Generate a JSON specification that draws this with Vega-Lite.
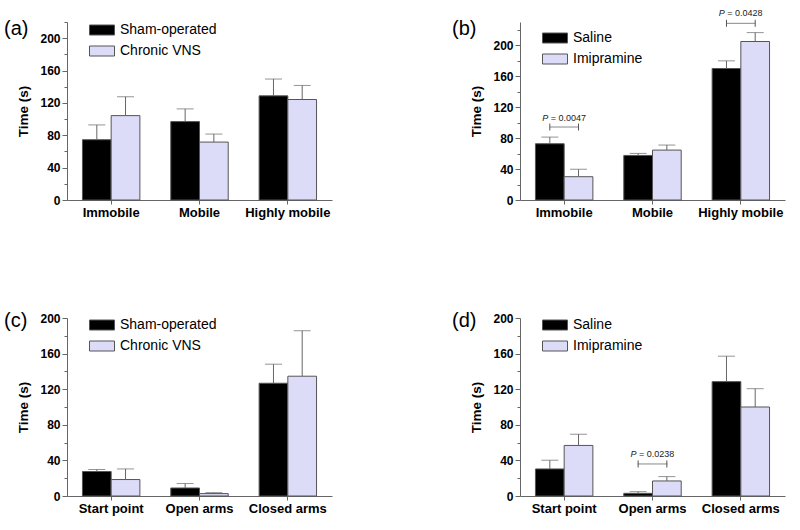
{
  "$schema": "https://vega.github.io/schema/vega-lite/v6.json",
  "padding": {"top": 8, "left": 3, "right": 5, "bottom": 5},
  "columns": 2,
  "spacing": {"row": 92, "column": 119},
  "resolve": {"scale": {"x": "independent", "y": "independent", "fill": "independent", "xOffset": "independent"}},
  "config": {
    "font": "Liberation Sans",
    "view": {"stroke": null},
    "axis": {"domainColor": "#666", "tickColor": "#666", "labelColor": "#000", "titleColor": "#000", "grid": false, "labelFontWeight": "bold", "titleFontWeight": "bold"},
    "axisX": {"title": null, "labelAngle": 0, "labelFontSize": 13, "tickSize": 4, "labelPadding": 2},
    "axisY": {"labelFontSize": 12, "titleFontSize": 13.5, "tickSize": 5, "labelPadding": 2, "titlePadding": 9},
    "legend": {"orient": "none", "legendX": 22, "legendY": 0, "title": null, "symbolType": "M-1,-0.4H1V0.4H-1Z", "symbolSize": 625, "symbolStrokeColor": "#555", "symbolStrokeWidth": 1, "symbolOpacity": 1, "labelFontSize": 14, "labelColor": "#000", "labelOffset": 5, "rowPadding": 1, "padding": 0},
    "title": {"anchor": "start", "frame": "bounds", "fontSize": 20, "fontWeight": "normal", "color": "#000", "offset": 0}
  },
  "concat": [
    {
      "width": 265, "height": 178,
      "title": {"text": "(a)", "dx": -13, "dy": 26},
      "data": {"values": [
        {"cat": "Immobile", "group": "Sham-operated", "value": 74.5, "err": 92.8},
        {"cat": "Immobile", "group": "Chronic VNS", "value": 104.3, "err": 127.6},
        {"cat": "Mobile", "group": "Sham-operated", "value": 96.9, "err": 112.6},
        {"cat": "Mobile", "group": "Chronic VNS", "value": 71.6, "err": 81.5},
        {"cat": "Highly mobile", "group": "Sham-operated", "value": 128.7, "err": 149.5},
        {"cat": "Highly mobile", "group": "Chronic VNS", "value": 124.2, "err": 141.6}
      ]},
      "resolve": {"axis": {"y": "independent"}},
      "layer": [
        {"mark": {"type": "bar", "stroke": "#555", "strokeWidth": 1},
         "encoding": {
           "x": {"field": "cat", "type": "nominal", "sort": ["Immobile", "Mobile", "Highly mobile"], "scale": {"paddingInner": 0.35, "paddingOuter": 0.175}},
           "xOffset": {"field": "group", "type": "nominal", "sort": ["Sham-operated", "Chronic VNS"], "scale": {"paddingInner": 0, "paddingOuter": 0}},
           "y": {"field": "value", "type": "quantitative", "scale": {"domain": [0, 220], "nice": false}, "axis": {"values": [0, 40, 80, 120, 160, 200], "title": "Time (s)"}},
           "fill": {"field": "group", "type": "nominal", "scale": {"domain": ["Sham-operated", "Chronic VNS"], "range": ["#000000", "#dcdcf8"]}, "legend": {"legendY": -5}}
         }},
        {"mark": {"type": "rule", "color": "#666", "strokeWidth": 1},
         "encoding": {
           "x": {"field": "cat", "type": "nominal", "sort": ["Immobile", "Mobile", "Highly mobile"]},
           "xOffset": {"field": "group", "type": "nominal", "sort": ["Sham-operated", "Chronic VNS"]},
           "y": {"field": "value", "type": "quantitative", "axis": null},
           "y2": {"field": "err"}
         }},
        {"mark": {"type": "tick", "color": "#666", "size": 17, "thickness": 1},
         "encoding": {
           "x": {"field": "cat", "type": "nominal", "sort": ["Immobile", "Mobile", "Highly mobile"]},
           "xOffset": {"field": "group", "type": "nominal", "sort": ["Sham-operated", "Chronic VNS"]},
           "y": {"field": "err", "type": "quantitative", "axis": {"values": [20, 60, 100, 140, 180, 220], "labels": false, "tickSize": 3, "domain": false, "title": null, "orient": "left"}}
         }}
      ]
    },
    {
      "width": 265, "height": 178,
      "title": {"text": "(b)", "dx": -18, "dy": 34},
      "data": {"values": [
        {"cat": "Immobile", "group": "Saline", "value": 72.7, "err": 81.3},
        {"cat": "Immobile", "group": "Imipramine", "value": 30.1, "err": 39.6},
        {"cat": "Mobile", "group": "Saline", "value": 57.6, "err": 60.2},
        {"cat": "Mobile", "group": "Imipramine", "value": 64.5, "err": 71.0},
        {"cat": "Highly mobile", "group": "Saline", "value": 169.9, "err": 179.8},
        {"cat": "Highly mobile", "group": "Imipramine", "value": 204.8, "err": 216.3}
      ]},
      "resolve": {"axis": {"y": "independent"}},
      "layer": [
        {"mark": {"type": "bar", "stroke": "#555", "strokeWidth": 1},
         "encoding": {
           "x": {"field": "cat", "type": "nominal", "sort": ["Immobile", "Mobile", "Highly mobile"], "scale": {"paddingInner": 0.35, "paddingOuter": 0.175}},
           "xOffset": {"field": "group", "type": "nominal", "sort": ["Saline", "Imipramine"], "scale": {"paddingInner": 0, "paddingOuter": 0}},
           "y": {"field": "value", "type": "quantitative", "scale": {"domain": [0, 230], "nice": false}, "axis": {"values": [0, 40, 80, 120, 160, 200], "title": "Time (s)"}},
           "fill": {"field": "group", "type": "nominal", "scale": {"domain": ["Saline", "Imipramine"], "range": ["#000000", "#dcdcf8"]}, "legend": {"legendY": 3}}
         }},
        {"mark": {"type": "rule", "color": "#666", "strokeWidth": 1},
         "encoding": {
           "x": {"field": "cat", "type": "nominal", "sort": ["Immobile", "Mobile", "Highly mobile"]},
           "xOffset": {"field": "group", "type": "nominal", "sort": ["Saline", "Imipramine"]},
           "y": {"field": "value", "type": "quantitative", "axis": null},
           "y2": {"field": "err"}
         }},
        {"mark": {"type": "tick", "color": "#666", "size": 17, "thickness": 1},
         "encoding": {
           "x": {"field": "cat", "type": "nominal", "sort": ["Immobile", "Mobile", "Highly mobile"]},
           "xOffset": {"field": "group", "type": "nominal", "sort": ["Saline", "Imipramine"]},
           "y": {"field": "err", "type": "quantitative", "axis": {"values": [20, 60, 100, 140, 180, 220], "labels": false, "tickSize": 3, "domain": false, "title": null, "orient": "left"}}
         }},
        {"data": {"values": [
           {"cat": "Immobile", "y": 94.3},
           {"cat": "Highly mobile", "y": 228.3}
         ]},
         "mark": {"type": "tick", "color": "#555", "size": 29, "thickness": 1},
         "encoding": {
           "x": {"field": "cat", "type": "nominal", "sort": ["Immobile", "Mobile", "Highly mobile"]},
           "y": {"field": "y", "type": "quantitative", "axis": null}
         }},
        {"data": {"values": [
           {"cat": "Immobile", "group": "Saline", "y1": 89.8, "y2": 98.8},
           {"cat": "Immobile", "group": "Imipramine", "y1": 89.8, "y2": 98.8},
           {"cat": "Highly mobile", "group": "Saline", "y1": 223.8, "y2": 232.8},
           {"cat": "Highly mobile", "group": "Imipramine", "y1": 223.8, "y2": 232.8}
         ]},
         "mark": {"type": "rule", "color": "#555", "strokeWidth": 1},
         "encoding": {
           "x": {"field": "cat", "type": "nominal", "sort": ["Immobile", "Mobile", "Highly mobile"]},
           "xOffset": {"field": "group", "type": "nominal", "sort": ["Saline", "Imipramine"]},
           "y": {"field": "y1", "type": "quantitative", "axis": null},
           "y2": {"field": "y2"}
         }},
        {"data": {"values": [
           {"cat": "Immobile", "y": 102, "p": "P", "rest": "= 0.0047"},
           {"cat": "Highly mobile", "y": 238, "p": "P", "rest": "= 0.0428"}
         ]},
         "layer": [
           {"mark": {"type": "text", "fontSize": 9, "fontStyle": "italic", "color": "#222", "align": "left", "dx": -22, "baseline": "alphabetic"},
            "encoding": {
              "x": {"field": "cat", "type": "nominal", "sort": ["Immobile", "Mobile", "Highly mobile"]},
              "y": {"field": "y", "type": "quantitative", "axis": null},
              "text": {"field": "p"}
            }},
           {"mark": {"type": "text", "fontSize": 9, "color": "#222", "align": "left", "dx": -13.5, "baseline": "alphabetic"},
            "encoding": {
              "x": {"field": "cat", "type": "nominal", "sort": ["Immobile", "Mobile", "Highly mobile"]},
              "y": {"field": "y", "type": "quantitative", "axis": null},
              "text": {"field": "rest"}
            }}
         ]}
      ]
    },
    {
      "width": 265, "height": 178,
      "title": {"text": "(c)", "dx": -13, "dy": 23},
      "data": {"values": [
        {"cat": "Start point", "group": "Sham-operated", "value": 27.5, "err": 29.8},
        {"cat": "Start point", "group": "Chronic VNS", "value": 18.5, "err": 30.4},
        {"cat": "Open arms", "group": "Sham-operated", "value": 9.0, "err": 14.0},
        {"cat": "Open arms", "group": "Chronic VNS", "value": 2.7, "err": 3.8},
        {"cat": "Closed arms", "group": "Sham-operated", "value": 126.7, "err": 148.1},
        {"cat": "Closed arms", "group": "Chronic VNS", "value": 134.6, "err": 185.7}
      ]},
      "resolve": {"axis": {"y": "independent"}},
      "layer": [
        {"mark": {"type": "bar", "stroke": "#555", "strokeWidth": 1},
         "encoding": {
           "x": {"field": "cat", "type": "nominal", "sort": ["Start point", "Open arms", "Closed arms"], "scale": {"paddingInner": 0.35, "paddingOuter": 0.175}},
           "xOffset": {"field": "group", "type": "nominal", "sort": ["Sham-operated", "Chronic VNS"], "scale": {"paddingInner": 0, "paddingOuter": 0}},
           "y": {"field": "value", "type": "quantitative", "scale": {"domain": [0, 200], "nice": false}, "axis": {"values": [0, 40, 80, 120, 160, 200], "title": "Time (s)"}},
           "fill": {"field": "group", "type": "nominal", "scale": {"domain": ["Sham-operated", "Chronic VNS"], "range": ["#000000", "#dcdcf8"]}, "legend": {"legendY": -6}}
         }},
        {"mark": {"type": "rule", "color": "#666", "strokeWidth": 1},
         "encoding": {
           "x": {"field": "cat", "type": "nominal", "sort": ["Start point", "Open arms", "Closed arms"]},
           "xOffset": {"field": "group", "type": "nominal", "sort": ["Sham-operated", "Chronic VNS"]},
           "y": {"field": "value", "type": "quantitative", "axis": null},
           "y2": {"field": "err"}
         }},
        {"mark": {"type": "tick", "color": "#666", "size": 17, "thickness": 1},
         "encoding": {
           "x": {"field": "cat", "type": "nominal", "sort": ["Start point", "Open arms", "Closed arms"]},
           "xOffset": {"field": "group", "type": "nominal", "sort": ["Sham-operated", "Chronic VNS"]},
           "y": {"field": "err", "type": "quantitative", "axis": {"values": [20, 60, 100, 140, 180], "labels": false, "tickSize": 3, "domain": false, "title": null, "orient": "left"}}
         }}
      ]
    },
    {
      "width": 265, "height": 178,
      "title": {"text": "(d)", "dx": -18, "dy": 23},
      "data": {"values": [
        {"cat": "Start point", "group": "Saline", "value": 30.4, "err": 40.2},
        {"cat": "Start point", "group": "Imipramine", "value": 56.8, "err": 69.5},
        {"cat": "Open arms", "group": "Saline", "value": 3.0, "err": 4.9},
        {"cat": "Open arms", "group": "Imipramine", "value": 16.9, "err": 21.8},
        {"cat": "Closed arms", "group": "Saline", "value": 128.5, "err": 157.1},
        {"cat": "Closed arms", "group": "Imipramine", "value": 100.0, "err": 120.6}
      ]},
      "resolve": {"axis": {"y": "independent"}},
      "layer": [
        {"mark": {"type": "bar", "stroke": "#555", "strokeWidth": 1},
         "encoding": {
           "x": {"field": "cat", "type": "nominal", "sort": ["Start point", "Open arms", "Closed arms"], "scale": {"paddingInner": 0.35, "paddingOuter": 0.175}},
           "xOffset": {"field": "group", "type": "nominal", "sort": ["Saline", "Imipramine"], "scale": {"paddingInner": 0, "paddingOuter": 0}},
           "y": {"field": "value", "type": "quantitative", "scale": {"domain": [0, 200], "nice": false}, "axis": {"values": [0, 40, 80, 120, 160, 200], "title": "Time (s)"}},
           "fill": {"field": "group", "type": "nominal", "scale": {"domain": ["Saline", "Imipramine"], "range": ["#000000", "#dcdcf8"]}, "legend": {"legendY": -6}}
         }},
        {"mark": {"type": "rule", "color": "#666", "strokeWidth": 1},
         "encoding": {
           "x": {"field": "cat", "type": "nominal", "sort": ["Start point", "Open arms", "Closed arms"]},
           "xOffset": {"field": "group", "type": "nominal", "sort": ["Saline", "Imipramine"]},
           "y": {"field": "value", "type": "quantitative", "axis": null},
           "y2": {"field": "err"}
         }},
        {"mark": {"type": "tick", "color": "#666", "size": 17, "thickness": 1},
         "encoding": {
           "x": {"field": "cat", "type": "nominal", "sort": ["Start point", "Open arms", "Closed arms"]},
           "xOffset": {"field": "group", "type": "nominal", "sort": ["Saline", "Imipramine"]},
           "y": {"field": "err", "type": "quantitative", "axis": {"values": [20, 60, 100, 140, 180], "labels": false, "tickSize": 3, "domain": false, "title": null, "orient": "left"}}
         }},
        {"data": {"values": [
           {"cat": "Open arms", "y": 36}
         ]},
         "mark": {"type": "tick", "color": "#555", "size": 30, "thickness": 1},
         "encoding": {
           "x": {"field": "cat", "type": "nominal", "sort": ["Start point", "Open arms", "Closed arms"]},
           "y": {"field": "y", "type": "quantitative", "axis": null}
         }},
        {"data": {"values": [
           {"cat": "Open arms", "group": "Saline", "y1": 32, "y2": 40},
           {"cat": "Open arms", "group": "Imipramine", "y1": 32, "y2": 40}
         ]},
         "mark": {"type": "rule", "color": "#555", "strokeWidth": 1},
         "encoding": {
           "x": {"field": "cat", "type": "nominal", "sort": ["Start point", "Open arms", "Closed arms"]},
           "xOffset": {"field": "group", "type": "nominal", "sort": ["Saline", "Imipramine"]},
           "y": {"field": "y1", "type": "quantitative", "axis": null},
           "y2": {"field": "y2"}
         }},
        {"data": {"values": [
           {"cat": "Open arms", "y": 44.2, "p": "P", "rest": "= 0.0238"}
         ]},
         "layer": [
           {"mark": {"type": "text", "fontSize": 9, "fontStyle": "italic", "color": "#222", "align": "left", "dx": -22, "baseline": "alphabetic"},
            "encoding": {
              "x": {"field": "cat", "type": "nominal", "sort": ["Start point", "Open arms", "Closed arms"]},
              "y": {"field": "y", "type": "quantitative", "axis": null},
              "text": {"field": "p"}
            }},
           {"mark": {"type": "text", "fontSize": 9, "color": "#222", "align": "left", "dx": -13.5, "baseline": "alphabetic"},
            "encoding": {
              "x": {"field": "cat", "type": "nominal", "sort": ["Start point", "Open arms", "Closed arms"]},
              "y": {"field": "y", "type": "quantitative", "axis": null},
              "text": {"field": "rest"}
            }}
         ]}
      ]
    }
  ]
}
